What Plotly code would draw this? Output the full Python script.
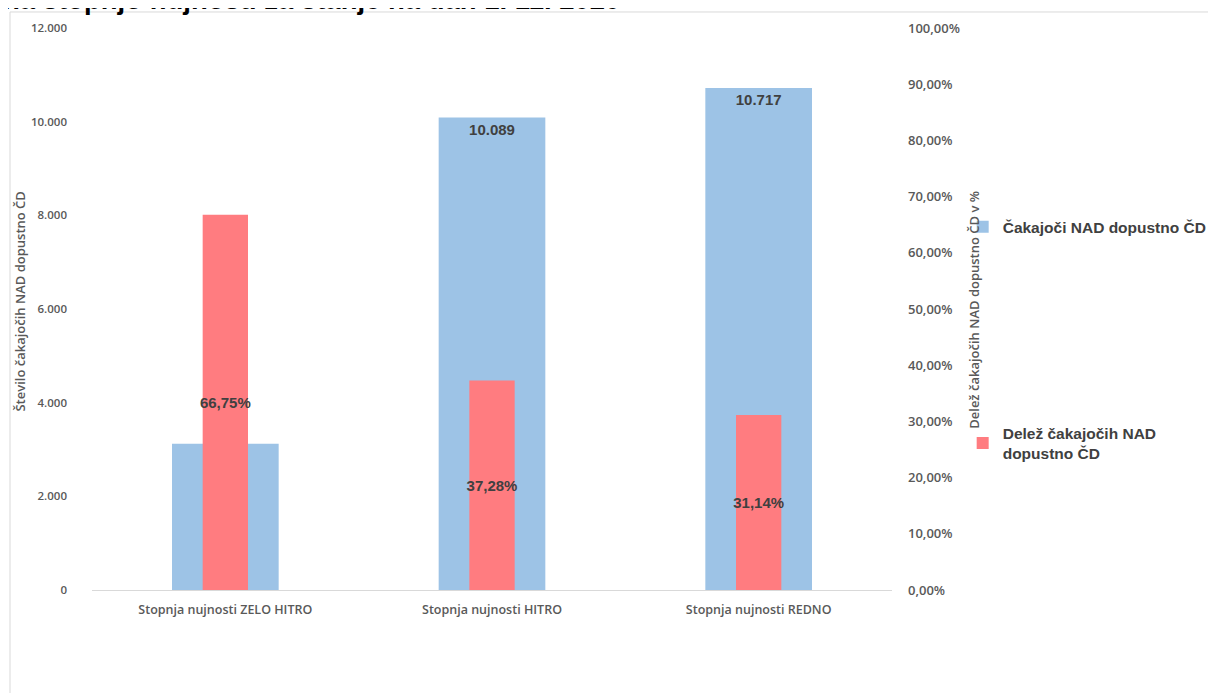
import plotly.graph_objects as go

categories = ["Stopnja nujnosti ZELO HITRO", "Stopnja nujnosti HITRO", "Stopnja nujnosti REDNO"]
cakajoci_nad = [3123, 10089, 10717]
delez_nad = [0.6675, 0.3728, 0.3114]

left_ticks = [0, 2000, 4000, 6000, 8000, 10000, 12000]
right_ticks = [0, 0.1, 0.2, 0.3, 0.4, 0.5, 0.6, 0.7, 0.8, 0.9, 1.0]

BLUE = "#9DC3E6"
RED = "#FF7C80"
LABEL = "#404040"
AXIS = "#595959"


def tf(size):
    return dict(family="Open Sans", size=size, color=AXIS, weight=600)


fig = go.Figure()
fig.add_trace(go.Bar(
    x=categories, y=cakajoci_nad, name="Čakajoči NAD dopustno ČD",
    marker=dict(color=BLUE, line=dict(width=0)), width=0.4,
    texttemplate="%{y:,.0f}", textposition="inside", insidetextanchor="end",
    textangle=0, constraintext="none",
    textfont=dict(family="Liberation Sans", size=15, color=LABEL, weight="bold"),
    legendgroup="a", yaxis="y",
))
fig.add_trace(go.Bar(
    x=categories, y=delez_nad, name="Delež čakajočih NAD<br>dopustno ČD",
    marker=dict(color=RED, line=dict(width=0)), width=0.17,
    texttemplate="%{y:.2%}", textposition="inside", insidetextanchor="middle",
    textangle=0, constraintext="none",
    textfont=dict(family="Liberation Sans", size=15, color=LABEL, weight="bold"),
    legendgroup="b", yaxis="y2",
))

fig.update_layout(
    width=1208, height=685,
    margin=dict(l=84, r=324, t=20, b=103, autoexpand=False),
    paper_bgcolor="white", plot_bgcolor="white",
    separators=",.",
    barmode="overlay",
    showlegend=True,
    legend=dict(
        xref="container", yref="container",
        x=0.7903, xanchor="left", y=0.7047, yanchor="top",
        font=dict(family="Liberation Sans", size=15.5, color=LABEL, weight="bold"),
        tracegroupgap=183, bgcolor="rgba(0,0,0,0)",
    ),
    xaxis=dict(
        showgrid=False, showline=True, linecolor="#D9D9D9", linewidth=1,
        ticks="", tickfont=tf(12.5), ticklabelstandoff=8, automargin=False,
    ),
    yaxis=dict(
        range=[0, 12000], tickvals=left_ticks, tickformat=",.0f",
        showgrid=False, zeroline=False, showline=False, ticks="",
        tickfont=tf(11.5), ticklabelstandoff=24, automargin=False,
    ),
    yaxis2=dict(
        range=[0, 1], tickvals=right_ticks, tickformat=".2%",
        overlaying="y", side="right",
        showgrid=False, zeroline=False, showline=False, ticks="",
        tickfont=tf(13), ticklabelstandoff=15, automargin=False,
    ),
    annotations=[
        dict(text="Število čakajočih NAD dopustno ČD", textangle=-90,
             xref="paper", yref="paper", x=-0.0895, y=0.514, xanchor="center", yanchor="middle",
             showarrow=False, font=tf(13)),
        dict(text="Delež čakajočih NAD dopustno ČD v %", textangle=-90,
             xref="paper", yref="paper", x=1.1015, y=0.499, xanchor="center", yanchor="middle",
             showarrow=False, font=tf(13)),
        dict(text="<b>na stopnjo nujnosti za stanje na dan 1. 11. 2020</b>",
             xref="paper", yref="paper", x=0, xshift=-91, y=1, yshift=11,
             xanchor="left", yanchor="bottom", showarrow=False,
             font=dict(family="Liberation Sans", size=27.5, color="#000000")),
    ],
    shapes=[
        dict(type="rect", xref="paper", yref="paper",
             x0=-0.1025, x1=1.42, y0=-0.2, y1=1.0285,
             line=dict(color="#D9D9D9", width=1), fillcolor="rgba(0,0,0,0)", layer="below"),
    ],
)

fig.write_html("out.html")
